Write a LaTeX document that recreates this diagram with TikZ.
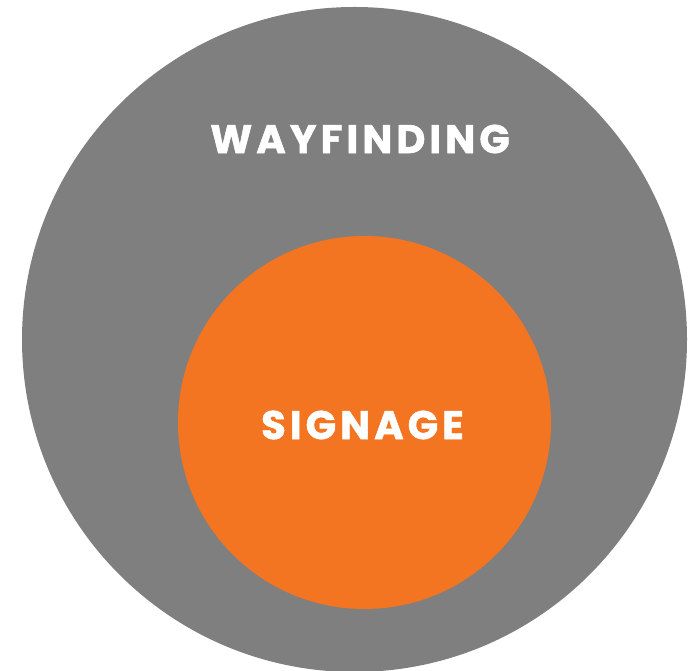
\documentclass[tikz,border=0pt]{standalone}
\usepackage{fontspec}
\newfontfamily\labelfont[LetterSpace=10,BoldFeatures={FakeBold=1.2}]{Poppins}
\definecolor{ringgrey}{HTML}{7F7F7F}
\definecolor{signorange}{HTML}{F47521}
\begin{document}
\begin{tikzpicture}[x=1pt,y=1pt,
  disc/.style={circle, inner sep=0pt, draw=none},
  caption/.style={text=white, inner sep=0pt, font=\labelfont\bfseries\fontsize{40}{40}\selectfont}]
\useasboundingbox (0,0) rectangle (698,671);
\node[disc, fill=ringgrey, minimum size=665pt] (outer) at (354.5,331.5) {};
\node[disc, fill=signorange, minimum size=373pt] (inner) at (364.5,248.5) {};
\node[caption] (wayfinding) at (360,532) {WAYFINDING};
\node[caption] (signage) at (362.5,246) {SIGNAGE};
\end{tikzpicture}
\end{document}
